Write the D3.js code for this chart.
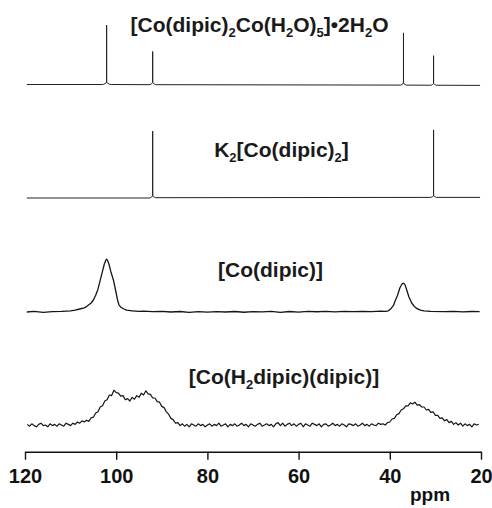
<!DOCTYPE html>
<html>
<head>
<meta charset="utf-8">
<script src="https://cdn.jsdelivr.net/npm/d3@7"></script>
<style>
  html, body { margin: 0; padding: 0; background: #fff; }
  svg { display: block; }
</style>
</head>
<body>
<svg id="chart" width="492" height="508"></svg>
<script>
// ---------------- DATA ----------------
const ppmDomain = [120, 20];
const tickValues = [120, 100, 80, 60, 40, 20];
const axisTitle = "ppm";

// compound labels ("_x" = subscript x)
const compoundLabels = [
  "[Co(dipic)_2Co(H_2O)_5]•2H_2O",
  "K_2[Co(dipic)_2]",
  "[Co(dipic)]",
  "[Co(H_2dipic)(dipic)]"
];

// spectra: [ppm, intensity]
const spectrum1 = [
  [119.6,0],[103,0],[102.7,0.5],[102.3,2],[102.1,4],[102.1,99],[102.1,4],[101.9,2],[101.5,0.5],[101,0],
  [92.6,-0.3],[92.2,1.5],[92,3],[92,55],[92,3],[91.8,1.5],[91.4,-0.3],
  [37.6,-1],[37.2,0.5],[37,3],[37,86],[37,3],[36.8,0.5],[36.4,-1],
  [31,-1.2],[30.6,0],[30.4,1.5],[30.4,48],[30.4,1.5],[30.2,0],[29.8,-1.2],[20.2,-1.5]
];

const spectrum2 = [
  [119.6,-0.5],[92.6,-0.5],[92.2,1.5],[92,3],[92,111],[92,3],[91.8,1.5],[91.4,0],
  [31,0.5],[30.6,2],[30.4,3],[30.4,113],[30.4,3],[30.2,2],[29.8,0.5],[20.2,0.5]
];

const spectrum3 = [
  [119.6,0],[118,1],[116,-0.5],[114,0.5],[112,1],[110,2],[109,3],[108,5],[107,7],[106.5,9],[106,12],
  [105.5,15],[105,20],[104.5,28],[104,38],[103.5,53],[103,68],[102.6,80],[102.3,86],[102.1,88],
  [101.9,86],[101.6,80],[101.2,68],[100.6,53],[100.1,35],[99.7,20],[99.4,12],[99,8],[98.3,5],
  [97.7,3],[96.5,2],[95,1],[94,1.5],[92,0.5],[90,1],[88,0],[86,0.8],[84,-0.5],[82,0.5],[80,-0.3],
  [78,0.7],[76,0],[74,0.8],[72,-0.4],[70,0.6],[68,0.2],[66,1],[64,-0.5],[62,0.8],[60,-0.3],[58,1],
  [56,0.4],[54,1],[52,0.3],[50,1.2],[48,0.5],[46,1],[44,0.7],[42,1.5],[41,1],[40.3,2],[39.7,6],
  [39.2,11],[38.9,17],[38.3,28],[37.8,40],[37.3,47],[37,48],[36.7,46],[36.3,37],[35.8,25],[35.2,15],
  [34.6,9],[34.1,6],[33.3,3],[32.5,2],[31,1],[28,0.5],[26,1],[24,0.3],[22,0.8],[20.3,0.5]
];

const spectrum4 = [
  [119.5,1],[119,-2],[118.5,2],[118,-1],[117.5,-3],[117,1],[116.5,3],[116,-1],[115.5,0],[115,-3],
  [114.5,2],[114,-1],[113.5,1],[113,-2],[112.5,2],[112,0],[111.5,-2],[111,3],[110.5,1],[110,-1],
  [109.5,3],[109,1],[108.5,5],[108,3],[107.5,7],[107,5],[106.5,8],[106,6],[105.5,12],[105,13],
  [104.5,20],[104,22],[103.5,30],[103,32],[102.5,40],[102,42],[101.5,50],[101,49],[100.5,58],[100,54],
  [99.5,53],[99,48],[98.5,49],[98,42],[97.5,44],[97,40],[96.5,46],[96,43],[95.5,49],[95,46],
  [94.5,53],[94,50],[93.5,57],[93,52],[92.5,51],[92,45],[91.5,45],[91,39],[90.5,38],[90,31],
  [89.5,29],[89,22],[88.5,18],[88,11],[87.5,9],[87,3],[86.5,4],[86,-1],[85.5,2],[85,-2],
  [84.5,1],[84,-3],[83.5,2],[83,0],[82.5,-2],[82,2],[81.5,-1],[81,1],[80.5,-3],[80,0],
  [79.5,2],[79,-2],[78.5,1],[78,-1],[77.5,3],[77,-2],[76.5,0],[76,2],[75.5,-3],[75,1],
  [74.5,-1],[74,2],[73.5,-2],[73,0],[72.5,3],[72,-1],[71.5,1],[71,-3],[70.5,2],[70,0],
  [69.5,-2],[69,1],[68.5,3],[68,-2],[67.5,0],[67,2],[66.5,-1],[66,1],[65.5,-3],[65,2],
  [64.5,4],[64,-1],[63.5,3],[63,-2],[62.5,1],[62,3],[61.5,-1],[61,2],[60.5,-2],[60,1],
  [59.5,3],[59,-3],[58.5,2],[58,0],[57.5,-2],[57,3],[56.5,1],[56,-1],[55.5,2],[55,-3],
  [54.5,1],[54,2],[53.5,-2],[53,0],[52.5,3],[52,-1],[51.5,1],[51,-2],[50.5,2],[50,0],
  [49.5,-3],[49,2],[48.5,1],[48,-1],[47.5,2],[47,-2],[46.5,0],[46,3],[45.5,-1],[45,1],
  [44.5,-2],[44,2],[43.5,0],[43,-1],[42.5,3],[42,1],[41.5,2],[41,0],[40.5,4],[40,5],
  [39.5,10],[39,11],[38.5,17],[38,19],[37.5,25],[37,27],[36.5,32],[36,32],[35.5,37],[35,35],
  [34.5,38],[34,33],[33.5,34],[33,30],[32.5,30],[32,25],[31.5,26],[31,21],[30.5,22],[30,16],
  [29.5,16],[29,11],[28.5,12],[28,7],[27.5,9],[27,4],[26.5,6],[26,1],[25.5,4],[25,0],
  [24.5,3],[24,-2],[23.5,2],[23,-1],[22.5,1],[22,-3],[21.5,2],[21,0],[20.5,1]
];

const spectra = [spectrum1, spectrum2, spectrum3, spectrum4];

// ---------------- LAYOUT ----------------
const svg = d3.select("#chart");
const x = d3.scaleLinear().domain(ppmDomain).range([25, 481]);
const baselines = [84.5, 197.7, 312, 425];
const labelPos = [[259.5, 31.5], [281.5, 156.5], [270.5, 277], [284, 384]];
const pxPerUnit = 0.6;
const strokeW = [1.0, 1.0, 1.3, 1.2];
const strokeC = ["#222", "#222", "#151515", "#151515"];

spectra.forEach((data, i) => {
  const y = d3.scaleLinear().domain([0, 100]).range([baselines[i], baselines[i] - 100 * pxPerUnit]);
  const line = d3.line().x(d => x(d[0])).y(d => y(d[1]));
  svg.append("path")
    .datum(data)
    .attr("d", line)
    .attr("fill", "none")
    .attr("stroke", strokeC[i])
    .attr("stroke-width", strokeW[i])
    .attr("stroke-linejoin", "round");
});

// labels with subscripts
compoundLabels.forEach((lab, i) => {
  const t = svg.append("text")
    .attr("x", labelPos[i][0])
    .attr("y", labelPos[i][1])
    .attr("text-anchor", "middle")
    .attr("font-family", "'Liberation Sans', Arial, Helvetica, sans-serif")
    .attr("font-size", 21)
    .attr("font-weight", "bold")
    .attr("fill", "#1a1a1a");
  const parts = [];
  let buf = "";
  for (let k = 0; k < lab.length; k++) {
    if (lab[k] === "_") {
      if (buf) parts.push({ s: buf, sub: false });
      buf = "";
      parts.push({ s: lab[k + 1], sub: true });
      k++;
    } else buf += lab[k];
  }
  if (buf) parts.push({ s: buf, sub: false });
  let shifted = false;
  parts.forEach(p => {
    const ts = t.append("tspan").text(p.s);
    if (p.sub) {
      ts.attr("font-size", 13).attr("dy", shifted ? 0 : 5);
      shifted = true;
    } else {
      if (shifted) ts.attr("dy", -5);
      shifted = false;
    }
  });
});

// axis
const axisY = 451.7;
const axis = d3.axisBottom(x).tickValues(tickValues).tickSize(8).tickSizeOuter(0).tickPadding(4);
const g = svg.append("g").attr("transform", `translate(0,${axisY})`).call(axis);
g.select(".domain").attr("stroke", "#111").attr("stroke-width", 1.4);
g.selectAll(".tick line").attr("stroke", "#111").attr("stroke-width", 1.4);
g.selectAll(".tick text")
  .attr("font-family", "'Liberation Sans', Arial, Helvetica, sans-serif")
  .attr("font-size", 20)
  .attr("font-weight", "bold")
  .attr("fill", "#111")
  .attr("dy", null)
  .attr("y", 31.5);

svg.append("text")
  .attr("x", 430)
  .attr("y", 501)
  .attr("text-anchor", "middle")
  .attr("font-family", "'Liberation Sans', Arial, Helvetica, sans-serif")
  .attr("font-size", 19)
  .attr("font-weight", "bold")
  .attr("fill", "#111")
  .text(axisTitle);
</script>
</body>
</html>
